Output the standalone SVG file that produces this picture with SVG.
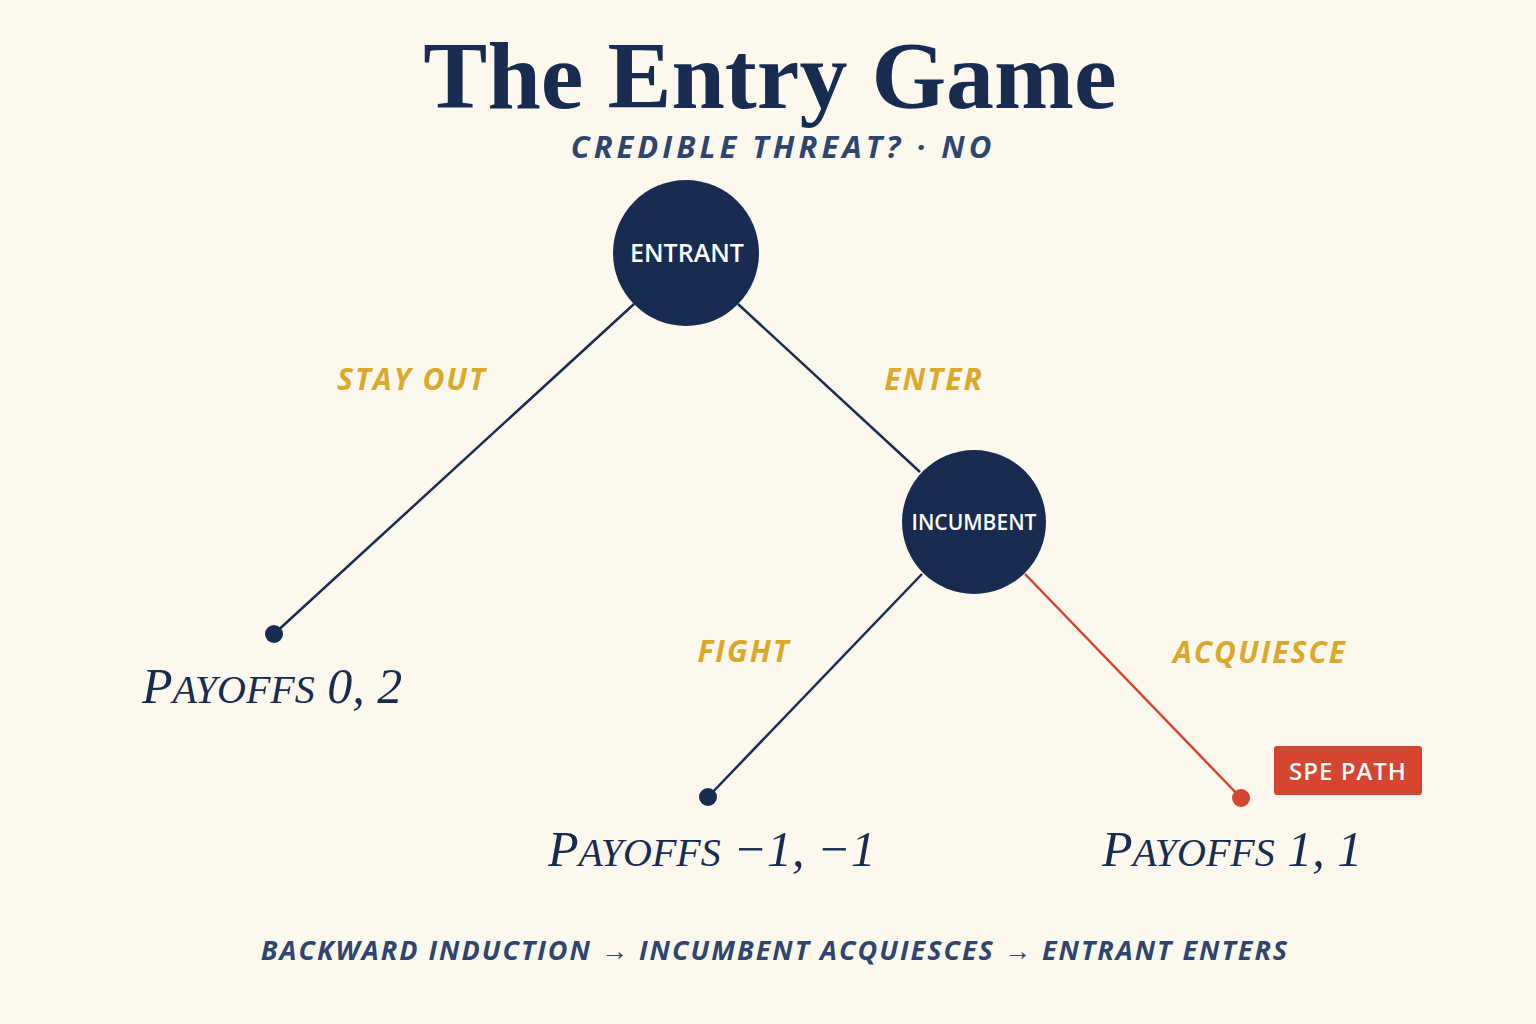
<svg xmlns="http://www.w3.org/2000/svg" width="1536" height="1024" viewBox="0 0 1536 1024">
<style>
.node{fill:#182c52}
.nt{fill:#fff;font-family:"Open Sans",sans-serif;font-weight:600;text-anchor:middle}
.lbl{fill:#dba92a;font-family:"Open Sans",sans-serif;font-weight:700;font-style:italic;font-size:30px;letter-spacing:2px;text-anchor:middle}
.pay{fill:#182c52;font-family:"Liberation Serif",serif;font-style:italic;font-size:50px}
.sm{font-size:40px}
.edge{stroke:#182c52;stroke-width:2.5;fill:none}
.spe{stroke:#d5452f;stroke-width:2.5;fill:none}
</style>
<rect width="1536" height="1024" fill="#fcf8ee"/>
<text x="770" y="108" text-anchor="middle" font-family="Liberation Serif,serif" font-weight="bold" font-size="96" fill="#182c52">The Entry Game</text>
<text x="783" y="158" text-anchor="middle" font-family="Open Sans,sans-serif" font-weight="700" font-style="italic" font-size="31" letter-spacing="4" fill="#2e4570">CREDIBLE THREAT? · NO</text>
<g id="connectors">
<line class="edge" x1="634" y1="304" x2="274" y2="634"/>
<line class="edge" x1="738" y1="304" x2="920" y2="472"/>
<line class="edge" x1="922" y1="574" x2="708" y2="797"/>
<line class="spe" x1="1025" y1="574" x2="1241" y2="798"/>
<circle cx="274" cy="634" r="9" fill="#182c52"/>
<circle cx="708" cy="797" r="9" fill="#182c52"/>
<circle cx="1241" cy="798" r="9" fill="#d5452f"/>
<text class="lbl" x="412" y="390">STAY OUT</text>
<text class="lbl" x="934" y="390">ENTER</text>
<text class="lbl" x="744" y="662">FIGHT</text>
<text class="lbl" x="1260" y="663">ACQUIESCE</text>
</g>
<g id="entrant"><circle class="node" cx="686" cy="253" r="73"/><text class="nt" x="687" y="262" font-size="25">ENTRANT</text></g>
<g id="incumbent"><circle class="node" cx="974" cy="522" r="72"/><text class="nt" x="974" y="530" font-size="21">INCUMBENT</text></g>
<g id="leaf1"><text class="pay" x="142" y="703">P<tspan class="sm">AYOFFS</tspan>  0, 2</text></g>
<g id="leaf2"><text class="pay" x="548" y="866">P<tspan class="sm">AYOFFS</tspan>  −1, −1</text></g>
<g id="leaf3"><text class="pay" x="1102" y="866">P<tspan class="sm">AYOFFS</tspan>  1, 1</text></g>
<g id="spe"><rect x="1274" y="746" width="148" height="49" rx="3" fill="#d5452f"/><text class="nt" x="1348" y="780" font-size="24" letter-spacing="1">SPE PATH</text></g>
<text x="775" y="960" text-anchor="middle" font-family="Open Sans,sans-serif" font-weight="700" font-style="italic" font-size="27" letter-spacing="2" fill="#2e4570">BACKWARD INDUCTION → INCUMBENT ACQUIESCES → ENTRANT ENTERS</text>
</svg>
